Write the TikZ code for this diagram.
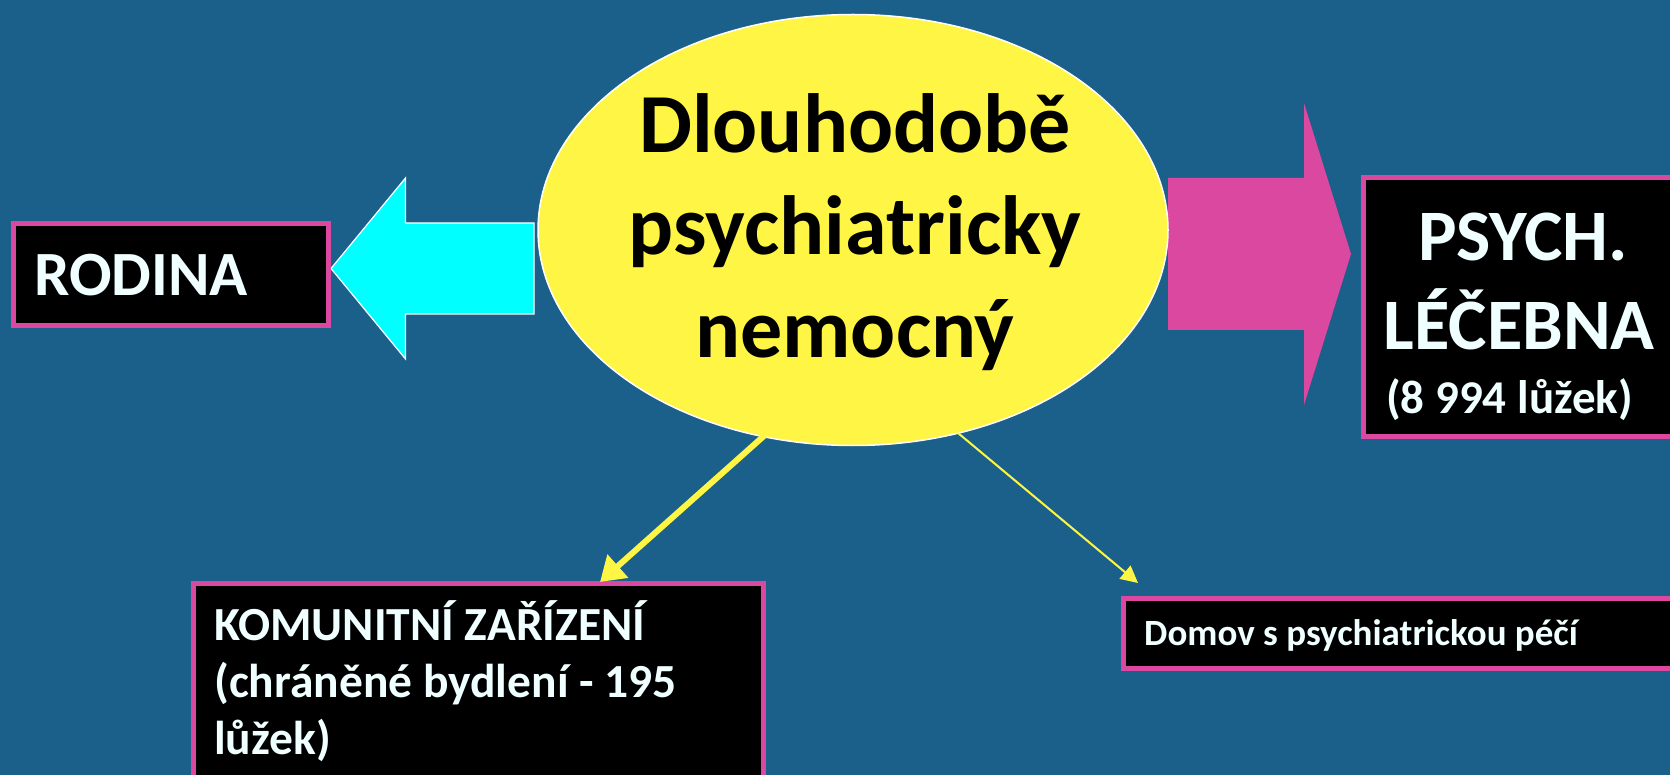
\documentclass[tikz,border=0pt]{standalone}
\usepackage{fontspec}
\setmainfont{Carlito}
\usetikzlibrary{shapes.geometric,arrows.meta}
\definecolor{bgblue}{RGB}{27,95,139}
\definecolor{ellyellow}{RGB}{255,245,68}
\definecolor{boxpink}{RGB}{219,72,160}
\definecolor{txtwhite}{RGB}{240,255,255}
\definecolor{arrcyan}{RGB}{0,255,255}
\begin{document}
\begin{tikzpicture}[x=1pt,y=-1pt,
  box/.style={draw=boxpink, line width=5pt, fill=black, rectangle, anchor=north west, inner sep=0pt, outer sep=0pt},
  wtxt/.style={text=txtwhite, anchor=base west, inner sep=0pt},
  btxt/.style={text=black, anchor=base, inner sep=0pt, font=\bfseries\fontsize{84}{102}\selectfont},
  yarrow/.style={draw=ellyellow}
]
\useasboundingbox (0,0) rectangle (1670,775);
\fill[bgblue] (0,0) rectangle (1670,775);

% block arrows
\filldraw[fill=arrcyan, draw=white, line width=1.2pt, line join=miter]
  (331,268.5) -- (405.5,178) -- (405.5,223) -- (534,223) -- (534,314) -- (405.5,314) -- (405.5,359) -- cycle;
\fill[boxpink]
  (1168,178) -- (1304,178) -- (1304,103) -- (1351,254) -- (1304,405) -- (1304,330) -- (1168,330) -- cycle;

% ellipse
\node[ellipse, fill=ellyellow, draw=white, line width=1.5pt, minimum width=630pt, minimum height=431pt, inner sep=0pt] (ell) at (853,230) {};
\node[btxt] (t1) at (855,153) {Dlouhodobě};
\node[btxt] (t2) at (855,255) {psychiatricky};
\node[btxt] (t3) at (855,358) {nemocný};

% boxes
\node[box, minimum width=315pt, minimum height=102pt] (rod) at (13.5,223.2) {};
\node[wtxt, font=\bfseries\fontsize{63}{75}\selectfont] (rodt) at (34,295.5) {RODINA};

\node[box, minimum width=330pt, minimum height=259pt] (psy) at (1363.5,177.5) {};
\node[wtxt, font=\bfseries\fontsize{72.5}{87}\selectfont] (psy1) at (1418,261) {PSYCH.};
\node[wtxt, font=\bfseries\fontsize{72.5}{87}\selectfont] (psy2) at (1383.5,350) {LÉČEBNA};
\node[wtxt, font=\bfseries\fontsize{47}{57}\selectfont] (psy3) at (1386,413) {(8 994 lůžek)};

\node[box, minimum width=570pt, minimum height=220pt] (kom) at (193.5,583.2) {};
\node[wtxt, font=\bfseries\fontsize{47.5}{57}\selectfont] (kom1) at (214,640.5) {KOMUNITNÍ ZAŘÍZENÍ};
\node[wtxt, font=\bfseries\fontsize{47.5}{57}\selectfont] (kom2) at (214,697.5) {(chráněné bydlení - 195};
\node[wtxt, font=\bfseries\fontsize{47.5}{57}\selectfont] (kom3) at (214,754.5) {lůžek)};

\node[box, minimum width=580pt, minimum height=70pt] (dom) at (1123.5,598.2) {};
\node[wtxt, font=\bfseries\fontsize{37}{44}\selectfont] (domt) at (1144,645) {Domov s psychiatrickou péčí};

% yellow connectors
\coordinate (a1s) at (765,435);
\coordinate (a1e) at (600,582);
\coordinate (a2s) at (958,433);
\coordinate (a2e) at (1138,583);
\draw[yarrow, line width=6pt, -{Triangle[length=24pt,width=30pt]}] (a1s) -- (a1e);
\draw[yarrow, line width=2pt, -{Triangle[length=17pt,width=17pt]}] (a2s) -- (a2e);
\end{tikzpicture}
\end{document}
